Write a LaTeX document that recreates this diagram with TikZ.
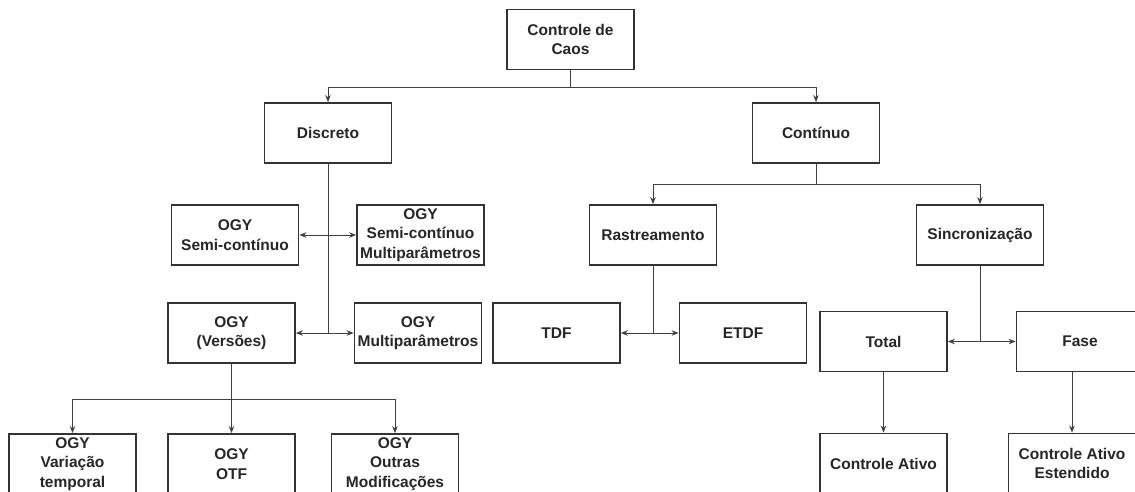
\documentclass[tikz,border=0pt]{standalone}
\usepackage{fontspec}
\setmainfont{Liberation Sans}
\usetikzlibrary{arrows.meta}

\begin{document}
\begin{tikzpicture}[
  x=1pt,y=-1pt,
  font=\fontsize{15.5}{19.5}\selectfont\bfseries,
  box/.style={draw=black!80,line width=1.8pt,align=center,
    minimum width=127pt,minimum height=60pt,inner sep=1pt,text=black!85},
  link/.style={draw=black!75,line width=0.9pt},
  flow/.style={link,-{Stealth[length=7pt,width=5.5pt]}},
  both/.style={link,{Stealth[length=7pt,width=5.5pt]}-{Stealth[length=7pt,width=5.5pt]}}]
\useasboundingbox[fill=white] (0,0) rectangle (1135,491);
\clip (0,0) rectangle (1135,491);

\node[box] (caos) at (570.5,39.5) {Controle de\\Caos};
\node[box] (disc) at (328,133) {Discreto};
\node[box] (cont) at (816,133) {Contínuo};

\node[box] (semi) at (235,235) {OGY\\Semi-contínuo};
\node[box] (semimulti) at (420.5,235) {OGY\\Semi-contínuo\\Multiparâmetros};
\node[box] (versoes) at (231.5,333) {OGY\\(Versões)};
\node[box] (multi) at (418,333) {OGY\\Multiparâmetros};

\node[box] (rast) at (653,235) {Rastreamento};
\node[box] (tdf) at (556.5,333) {TDF};
\node[box] (etdf) at (743,333) {ETDF};

\node[box] (sinc) at (980,235) {Sincronização};
\node[box] (total) at (883.5,341.5) {Total};
\node[box] (fase) at (1080,341.5) {Fase};

\node[box] (vartemp) at (72.5,464) {OGY\\Variação\\temporal};
\node[box] (otf) at (231.5,464) {OGY\\OTF};
\node[box] (outras) at (395,464) {OGY\\Outras\\Modificações};

\node[box] (ativo) at (883.5,463.5) {Controle Ativo};
\node[box] (estend) at (1072,463.5) {Controle Ativo\\Estendido};

\draw[link] (caos.south)--++(0,17) coordinate (caos_split);
\draw[flow] (caos_split)-|(disc.north);
\draw[flow] (caos_split)-|(cont.north);

\draw[link] (cont.south)--++(0,21) coordinate (cont_split);
\draw[flow] (cont_split)-|(rast.north);
\draw[flow] (cont_split)-|(sinc.north);

\draw[link] (disc.south)--(disc.south|-multi.west);
\draw[both] (semi.east)--(semimulti.west);
\draw[both] (versoes.east)--(multi.west);

\draw[link] (rast.south)--(rast.south|-etdf.west);
\draw[both] (tdf.east)--(etdf.west);

\draw[link] (sinc.south)--(sinc.south|-fase.west);
\draw[both] (total.east)--(fase.west);

\draw[link] (versoes.south)--++(0,36) coordinate (ogy_split);
\draw[flow] (ogy_split)-|(vartemp.north);
\draw[flow] (versoes.south)--(otf.north);
\draw[flow] (ogy_split)-|(outras.north);

\draw[flow] (total.south)--(ativo.north);
\draw[flow] (fase.south-|estend.north)--(estend.north);
\end{tikzpicture}
\end{document}
